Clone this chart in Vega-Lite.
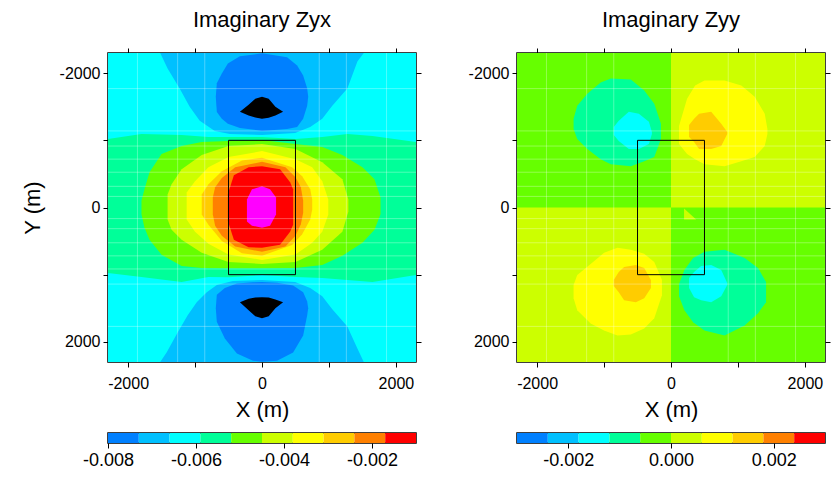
{
  "$schema": "https://vega.github.io/schema/vega-lite/v6.json",
  "background": "white",
  "padding": {"left": 20, "top": 7, "right": 5, "bottom": 5},
  "config": {
    "font": "Liberation Sans",
    "view": {"stroke": "black", "strokeWidth": 1.5},
    "axis": {"grid": false, "domain": false, "labelFlush": false, "tickColor": "black", "tickSize": 5, "tickWidth": 1, "labelFontSize": 16, "labelColor": "black", "labelPadding": 3, "titleFontSize": 22, "titleFontWeight": "normal", "titleColor": "black"},
    "title": {"fontSize": 22, "fontWeight": "normal", "color": "black", "offset": 16}
  },
  "datasets": {
    "zyx": [
      {"c":"a01","z":-0.00625,"x":-2300,"t":-2300,"b":2300},
      {"c":"a01","z":-0.00625,"x":2300,"t":-2300,"b":2300},
      {"c":"a02","z":-0.00695,"x":-1520,"t":-2300,"b":-2300},
      {"c":"a02","z":-0.00695,"x":-1410,"t":-2300,"b":-2070},
      {"c":"a02","z":-0.00695,"x":-1230,"t":-2300,"b":-1770},
      {"c":"a02","z":-0.00695,"x":-1080,"t":-2300,"b":-1500},
      {"c":"a02","z":-0.00695,"x":-930,"t":-2300,"b":-1290},
      {"c":"a02","z":-0.00695,"x":-705,"t":-2300,"b":-1140},
      {"c":"a02","z":-0.00695,"x":-480,"t":-2300,"b":-1095},
      {"c":"a02","z":-0.00695,"x":0,"t":-2300,"b":-1080},
      {"c":"a02","z":-0.00695,"x":495,"t":-2300,"b":-1110},
      {"c":"a02","z":-0.00695,"x":720,"t":-2300,"b":-1200},
      {"c":"a02","z":-0.00695,"x":900,"t":-2300,"b":-1320},
      {"c":"a02","z":-0.00695,"x":1050,"t":-2300,"b":-1515},
      {"c":"a02","z":-0.00695,"x":1275,"t":-2300,"b":-1770},
      {"c":"a02","z":-0.00695,"x":1425,"t":-2300,"b":-2175},
      {"c":"a02","z":-0.00695,"x":1520,"t":-2300,"b":-2300},
      {"c":"a03","z":-0.00695,"x":-1520,"t":2300,"b":2300},
      {"c":"a03","z":-0.00695,"x":-1425,"t":2160,"b":2300},
      {"c":"a03","z":-0.00695,"x":-1260,"t":1860,"b":2300},
      {"c":"a03","z":-0.00695,"x":-1110,"t":1605,"b":2300},
      {"c":"a03","z":-0.00695,"x":-975,"t":1410,"b":2300},
      {"c":"a03","z":-0.00695,"x":-825,"t":1260,"b":2300},
      {"c":"a03","z":-0.00695,"x":-675,"t":1155,"b":2300},
      {"c":"a03","z":-0.00695,"x":-435,"t":1095,"b":2300},
      {"c":"a03","z":-0.00695,"x":0,"t":1080,"b":2300},
      {"c":"a03","z":-0.00695,"x":495,"t":1110,"b":2300},
      {"c":"a03","z":-0.00695,"x":720,"t":1200,"b":2300},
      {"c":"a03","z":-0.00695,"x":900,"t":1320,"b":2300},
      {"c":"a03","z":-0.00695,"x":1050,"t":1515,"b":2300},
      {"c":"a03","z":-0.00695,"x":1275,"t":1770,"b":2300},
      {"c":"a03","z":-0.00695,"x":1425,"t":2100,"b":2300},
      {"c":"a03","z":-0.00695,"x":1520,"t":2300,"b":2300},
      {"c":"a04","z":-0.00765,"x":-690,"t":-1650,"b":-1650},
      {"c":"a04","z":-0.00765,"x":-675,"t":-1850,"b":-1420},
      {"c":"a04","z":-0.00765,"x":-600,"t":-1995,"b":-1320},
      {"c":"a04","z":-0.00765,"x":-510,"t":-2145,"b":-1245},
      {"c":"a04","z":-0.00765,"x":-330,"t":-2250,"b":-1185},
      {"c":"a04","z":-0.00765,"x":0,"t":-2295,"b":-1140},
      {"c":"a04","z":-0.00765,"x":375,"t":-2235,"b":-1170},
      {"c":"a04","z":-0.00765,"x":525,"t":-2115,"b":-1200},
      {"c":"a04","z":-0.00765,"x":615,"t":-1965,"b":-1320},
      {"c":"a04","z":-0.00765,"x":675,"t":-1770,"b":-1515},
      {"c":"a04","z":-0.00765,"x":690,"t":-1650,"b":-1650},
      {"c":"a05","z":-0.00765,"x":-690,"t":1500,"b":1500},
      {"c":"a05","z":-0.00765,"x":-675,"t":1300,"b":1700},
      {"c":"a05","z":-0.00765,"x":-555,"t":1200,"b":1950},
      {"c":"a05","z":-0.00765,"x":-375,"t":1130,"b":2175},
      {"c":"a05","z":-0.00765,"x":-135,"t":1112,"b":2280},
      {"c":"a05","z":-0.00765,"x":0,"t":1110,"b":2295},
      {"c":"a05","z":-0.00765,"x":225,"t":1120,"b":2280},
      {"c":"a05","z":-0.00765,"x":465,"t":1160,"b":2160},
      {"c":"a05","z":-0.00765,"x":615,"t":1260,"b":1905},
      {"c":"a05","z":-0.00765,"x":675,"t":1400,"b":1605},
      {"c":"a05","z":-0.00765,"x":690,"t":1500,"b":1500},
      {"c":"a06","z":-0.0084,"x":-330,"t":-1425,"b":-1425},
      {"c":"a06","z":-0.0084,"x":-200,"t":-1530,"b":-1370},
      {"c":"a06","z":-0.0084,"x":-100,"t":-1620,"b":-1340},
      {"c":"a06","z":-0.0084,"x":0,"t":-1650,"b":-1320},
      {"c":"a06","z":-0.0084,"x":100,"t":-1620,"b":-1335},
      {"c":"a06","z":-0.0084,"x":200,"t":-1500,"b":-1370},
      {"c":"a06","z":-0.0084,"x":315,"t":-1425,"b":-1425},
      {"c":"a07","z":-0.0084,"x":-330,"t":1410,"b":1410},
      {"c":"a07","z":-0.0084,"x":-200,"t":1360,"b":1530},
      {"c":"a07","z":-0.0084,"x":-100,"t":1340,"b":1620},
      {"c":"a07","z":-0.0084,"x":0,"t":1335,"b":1650},
      {"c":"a07","z":-0.0084,"x":100,"t":1340,"b":1620},
      {"c":"a07","z":-0.0084,"x":200,"t":1370,"b":1500},
      {"c":"a07","z":-0.0084,"x":315,"t":1410,"b":1410},
      {"c":"a08","z":-0.00555,"x":-2300,"t":-1020,"b":975},
      {"c":"a08","z":-0.00555,"x":-1800,"t":-1095,"b":1035},
      {"c":"a08","z":-0.00555,"x":-1200,"t":-1080,"b":1110},
      {"c":"a08","z":-0.00555,"x":-800,"t":-1050,"b":1035},
      {"c":"a08","z":-0.00555,"x":-500,"t":-1050,"b":1040},
      {"c":"a08","z":-0.00555,"x":0,"t":-1050,"b":1005},
      {"c":"a08","z":-0.00555,"x":500,"t":-1020,"b":1035},
      {"c":"a08","z":-0.00555,"x":900,"t":-1050,"b":1050},
      {"c":"a08","z":-0.00555,"x":1275,"t":-1095,"b":1080},
      {"c":"a08","z":-0.00555,"x":1650,"t":-1065,"b":1110},
      {"c":"a08","z":-0.00555,"x":2300,"t":-975,"b":1005},
      {"c":"a09","z":-0.00485,"x":-1800,"t":-100,"b":100},
      {"c":"a09","z":-0.00485,"x":-1755,"t":-270,"b":300},
      {"c":"a09","z":-0.00485,"x":-1680,"t":-525,"b":480},
      {"c":"a09","z":-0.00485,"x":-1500,"t":-795,"b":705},
      {"c":"a09","z":-0.00485,"x":-1200,"t":-915,"b":870},
      {"c":"a09","z":-0.00485,"x":-900,"t":-975,"b":900},
      {"c":"a09","z":-0.00485,"x":-500,"t":-990,"b":905},
      {"c":"a09","z":-0.00485,"x":0,"t":-1005,"b":905},
      {"c":"a09","z":-0.00485,"x":500,"t":-945,"b":900},
      {"c":"a09","z":-0.00485,"x":900,"t":-900,"b":855},
      {"c":"a09","z":-0.00485,"x":1200,"t":-780,"b":720},
      {"c":"a09","z":-0.00485,"x":1500,"t":-600,"b":525},
      {"c":"a09","z":-0.00485,"x":1680,"t":-420,"b":330},
      {"c":"a09","z":-0.00485,"x":1770,"t":-150,"b":100},
      {"c":"a10","z":-0.00415,"x":-1410,"t":-195,"b":180},
      {"c":"a10","z":-0.00415,"x":-1350,"t":-345,"b":330},
      {"c":"a10","z":-0.00415,"x":-1200,"t":-570,"b":480},
      {"c":"a10","z":-0.00415,"x":-900,"t":-780,"b":675},
      {"c":"a10","z":-0.00415,"x":-500,"t":-915,"b":810},
      {"c":"a10","z":-0.00415,"x":0,"t":-945,"b":840},
      {"c":"a10","z":-0.00415,"x":500,"t":-870,"b":810},
      {"c":"a10","z":-0.00415,"x":900,"t":-675,"b":630},
      {"c":"a10","z":-0.00415,"x":1200,"t":-420,"b":360},
      {"c":"a10","z":-0.00415,"x":1290,"t":-120,"b":60},
      {"c":"a11","z":-0.00345,"x":-1125,"t":-225,"b":180},
      {"c":"a11","z":-0.00345,"x":-1000,"t":-390,"b":360},
      {"c":"a11","z":-0.00345,"x":-800,"t":-600,"b":540},
      {"c":"a11","z":-0.00345,"x":-500,"t":-750,"b":700},
      {"c":"a11","z":-0.00345,"x":0,"t":-840,"b":780},
      {"c":"a11","z":-0.00345,"x":500,"t":-720,"b":700},
      {"c":"a11","z":-0.00345,"x":750,"t":-600,"b":525},
      {"c":"a11","z":-0.00345,"x":900,"t":-390,"b":360},
      {"c":"a11","z":-0.00345,"x":990,"t":-120,"b":105},
      {"c":"a12","z":-0.00275,"x":-900,"t":-195,"b":105},
      {"c":"a12","z":-0.00275,"x":-800,"t":-345,"b":255},
      {"c":"a12","z":-0.00275,"x":-600,"t":-540,"b":500},
      {"c":"a12","z":-0.00275,"x":-300,"t":-700,"b":680},
      {"c":"a12","z":-0.00275,"x":0,"t":-740,"b":720},
      {"c":"a12","z":-0.00275,"x":450,"t":-600,"b":560},
      {"c":"a12","z":-0.00275,"x":600,"t":-465,"b":400},
      {"c":"a12","z":-0.00275,"x":720,"t":-270,"b":180},
      {"c":"a12","z":-0.00275,"x":750,"t":-120,"b":30},
      {"c":"a13","z":-0.00205,"x":-735,"t":-150,"b":100},
      {"c":"a13","z":-0.00205,"x":-700,"t":-300,"b":270},
      {"c":"a13","z":-0.00205,"x":-600,"t":-440,"b":420},
      {"c":"a13","z":-0.00205,"x":-400,"t":-600,"b":580},
      {"c":"a13","z":-0.00205,"x":0,"t":-680,"b":660},
      {"c":"a13","z":-0.00205,"x":350,"t":-600,"b":580},
      {"c":"a13","z":-0.00205,"x":500,"t":-450,"b":420},
      {"c":"a13","z":-0.00205,"x":580,"t":-300,"b":250},
      {"c":"a13","z":-0.00205,"x":615,"t":-100,"b":80},
      {"c":"a14","z":-0.00135,"x":-510,"t":-200,"b":200},
      {"c":"a14","z":-0.00135,"x":-420,"t":-480,"b":480},
      {"c":"a14","z":-0.00135,"x":-200,"t":-600,"b":590},
      {"c":"a14","z":-0.00135,"x":0,"t":-615,"b":600},
      {"c":"a14","z":-0.00135,"x":270,"t":-570,"b":555},
      {"c":"a14","z":-0.00135,"x":420,"t":-375,"b":360},
      {"c":"a14","z":-0.00135,"x":465,"t":-270,"b":255},
      {"c":"a15","z":-0.0008,"x":-225,"t":-120,"b":210},
      {"c":"a15","z":-0.0008,"x":-150,"t":-270,"b":270},
      {"c":"a15","z":-0.0008,"x":0,"t":-315,"b":300},
      {"c":"a15","z":-0.0008,"x":120,"t":-270,"b":270},
      {"c":"a15","z":-0.0008,"x":210,"t":-150,"b":105}
    ],
    "zyy": [
      {"c":"a01","z":-0.0003,"x":-2300,"t":-2300,"b":2300},
      {"c":"a01","z":-0.0003,"x":2300,"t":-2300,"b":2300},
      {"c":"a02","z":0.0003,"x":0,"t":-2300,"b":0},
      {"c":"a02","z":0.0003,"x":2300,"t":-2300,"b":0},
      {"c":"a03","z":0.0003,"x":-2300,"t":0,"b":2300},
      {"c":"a03","z":0.0003,"x":0,"t":0,"b":2300},
      {"c":"a04","z":-0.0009,"x":-1455,"t":-1320,"b":-1170},
      {"c":"a04","z":-0.0009,"x":-1400,"t":-1515,"b":-1020},
      {"c":"a04","z":-0.0009,"x":-1250,"t":-1695,"b":-870},
      {"c":"a04","z":-0.0009,"x":-1050,"t":-1860,"b":-720},
      {"c":"a04","z":-0.0009,"x":-900,"t":-1920,"b":-645},
      {"c":"a04","z":-0.0009,"x":-600,"t":-1905,"b":-615},
      {"c":"a04","z":-0.0009,"x":-400,"t":-1740,"b":-690},
      {"c":"a04","z":-0.0009,"x":-250,"t":-1545,"b":-750},
      {"c":"a04","z":-0.0009,"x":-150,"t":-1245,"b":-1020},
      {"c":"a05","z":-0.0015,"x":-855,"t":-1200,"b":-1080},
      {"c":"a05","z":-0.0015,"x":-780,"t":-1290,"b":-990},
      {"c":"a05","z":-0.0015,"x":-630,"t":-1425,"b":-870},
      {"c":"a05","z":-0.0015,"x":-480,"t":-1395,"b":-870},
      {"c":"a05","z":-0.0015,"x":-330,"t":-1275,"b":-945},
      {"c":"a05","z":-0.0015,"x":-285,"t":-1125,"b":-1095},
      {"c":"a06","z":0.0009,"x":120,"t":-1215,"b":-945},
      {"c":"a06","z":0.0009,"x":240,"t":-1620,"b":-795},
      {"c":"a06","z":0.0009,"x":360,"t":-1815,"b":-720},
      {"c":"a06","z":0.0009,"x":500,"t":-1890,"b":-645},
      {"c":"a06","z":0.0009,"x":800,"t":-1890,"b":-615},
      {"c":"a06","z":0.0009,"x":1050,"t":-1815,"b":-690},
      {"c":"a06","z":0.0009,"x":1250,"t":-1650,"b":-750},
      {"c":"a06","z":0.0009,"x":1400,"t":-1395,"b":-915},
      {"c":"a06","z":0.0009,"x":1440,"t":-1170,"b":-1095},
      {"c":"a07","z":0.0015,"x":270,"t":-1230,"b":-1050},
      {"c":"a07","z":0.0015,"x":345,"t":-1320,"b":-975},
      {"c":"a07","z":0.0015,"x":420,"t":-1395,"b":-870},
      {"c":"a07","z":0.0015,"x":600,"t":-1425,"b":-870},
      {"c":"a07","z":0.0015,"x":750,"t":-1245,"b":-915},
      {"c":"a07","z":0.0015,"x":840,"t":-1125,"b":-1095},
      {"c":"a08","z":0.0009,"x":-1455,"t":1155,"b":1350},
      {"c":"a08","z":0.0009,"x":-1400,"t":1005,"b":1530},
      {"c":"a08","z":0.0009,"x":-1200,"t":840,"b":1725},
      {"c":"a08","z":0.0009,"x":-1000,"t":675,"b":1830},
      {"c":"a08","z":0.0009,"x":-800,"t":600,"b":1905},
      {"c":"a08","z":0.0009,"x":-600,"t":630,"b":1890},
      {"c":"a08","z":0.0009,"x":-400,"t":690,"b":1800},
      {"c":"a08","z":0.0009,"x":-250,"t":810,"b":1650},
      {"c":"a08","z":0.0009,"x":-135,"t":1080,"b":1305},
      {"c":"a09","z":0.0015,"x":-855,"t":1080,"b":1170},
      {"c":"a09","z":0.0015,"x":-780,"t":960,"b":1260},
      {"c":"a09","z":0.0015,"x":-700,"t":885,"b":1380},
      {"c":"a09","z":0.0015,"x":-525,"t":855,"b":1410},
      {"c":"a09","z":0.0015,"x":-400,"t":900,"b":1350},
      {"c":"a09","z":0.0015,"x":-300,"t":1080,"b":1200},
      {"c":"a10","z":-0.0009,"x":120,"t":1140,"b":1320},
      {"c":"a10","z":-0.0009,"x":200,"t":930,"b":1530},
      {"c":"a10","z":-0.0009,"x":330,"t":750,"b":1710},
      {"c":"a10","z":-0.0009,"x":500,"t":660,"b":1830},
      {"c":"a10","z":-0.0009,"x":800,"t":630,"b":1905},
      {"c":"a10","z":-0.0009,"x":1100,"t":750,"b":1755},
      {"c":"a10","z":-0.0009,"x":1300,"t":900,"b":1575},
      {"c":"a10","z":-0.0009,"x":1420,"t":1110,"b":1410},
      {"c":"a11","z":-0.0015,"x":270,"t":1050,"b":1200},
      {"c":"a11","z":-0.0015,"x":345,"t":960,"b":1335},
      {"c":"a11","z":-0.0015,"x":450,"t":870,"b":1380},
      {"c":"a11","z":-0.0015,"x":600,"t":855,"b":1410},
      {"c":"a11","z":-0.0015,"x":750,"t":930,"b":1320},
      {"c":"a11","z":-0.0015,"x":840,"t":1125,"b":1155},
      {"c":"a12","z":0.0003,"x":195,"t":15,"b":180},
      {"c":"a12","z":0.0003,"x":375,"t":180,"b":180}
    ],
    "mx": [{"x":-1860},{"x":-1260},{"x":-855},{"x":855},{"x":1260},{"x":1860}],
    "my": [{"t":-1770},{"t":-1140},{"t":-915},{"t":-720},{"t":-525},{"t":-315},{"t":-165},{"t":165},{"t":315},{"t":525},{"t":720},{"t":915},{"t":1140},{"t":1770}],
    "box": [{"x": -500, "x2": 500, "t": -1000, "b": 1000}],
    "cb1": [
      {"lo":-0.008,"hi":-0.0073,"z":-0.00765},
      {"lo":-0.0073,"hi":-0.0066,"z":-0.00695},
      {"lo":-0.0066,"hi":-0.0059,"z":-0.00625},
      {"lo":-0.0059,"hi":-0.0052,"z":-0.00555},
      {"lo":-0.0052,"hi":-0.0045,"z":-0.00485},
      {"lo":-0.0045,"hi":-0.0038,"z":-0.00415},
      {"lo":-0.0038,"hi":-0.0031,"z":-0.00345},
      {"lo":-0.0031,"hi":-0.0024,"z":-0.00275},
      {"lo":-0.0024,"hi":-0.0017,"z":-0.00205},
      {"lo":-0.0017,"hi":-0.001,"z":-0.00135}
    ],
    "cb2": [
      {"lo":-0.003,"hi":-0.0024,"z":-0.0027},
      {"lo":-0.0024,"hi":-0.0018,"z":-0.0021},
      {"lo":-0.0018,"hi":-0.0012,"z":-0.0015},
      {"lo":-0.0012,"hi":-0.0006,"z":-0.0009},
      {"lo":-0.0006,"hi":0,"z":-0.0003},
      {"lo":0,"hi":0.0006,"z":0.0003},
      {"lo":0.0006,"hi":0.0012,"z":0.0009},
      {"lo":0.0012,"hi":0.0018,"z":0.0015},
      {"lo":0.0018,"hi":0.0024,"z":0.0021},
      {"lo":0.0024,"hi":0.003,"z":0.0027}
    ]
  },
  "columns": 2,
  "spacing": {"row": 71, "column": 101},
  "bounds": "flush",
  "resolve": {"scale": {"color": "independent"}},
  "concat": [
    {
      "width": 308, "height": 309,
      "title": {"text": "Imaginary Zyx"},
      "layer": [
        {
          "data": {"name": "zyx"},
          "mark": {"type": "area", "clip": true, "interpolate": "linear", "opacity": 1},
          "encoding": {
            "x": {"field": "x", "type": "quantitative", "scale": {"domain": [-2300, 2300], "nice": false, "zero": false}, "axis": {"orient": "bottom", "title": "X (m)", "values": [-2000, -1000, 0, 1000, 2000], "labelExpr": "abs(datum.value) == 1000 ? '' : (datum.value < 0 ? '-' : '') + abs(datum.value)", "labelPadding": 8, "titlePadding": 8}},
            "y": {"field": "t", "type": "quantitative", "stack": null, "scale": {"domain": [-2300, 2300], "nice": false, "zero": false, "reverse": true}, "axis": {"orient": "left", "title": "Y (m)", "values": [-2000, -1000, 0, 1000, 2000], "labelExpr": "abs(datum.value) == 1000 ? '' : (datum.value < 0 ? '-' : '') + abs(datum.value)", "titlePadding": 15}},
            "y2": {"field": "b"},
            "color": {"field": "z", "type": "quantitative", "scale": {"type": "threshold", "domain": [-0.008, -0.0073, -0.0066, -0.0059, -0.0052, -0.0045, -0.0038, -0.0031, -0.0024, -0.0017, -0.001], "range": ["#000000", "#0080ff", "#00c0ff", "#00ffff", "#00ff99", "#66ff00", "#ccff00", "#ffff00", "#ffcc00", "#ff8000", "#ff0000", "#ff00ff"]}, "legend": null},
            "detail": {"field": "c", "type": "nominal"}
          }
        },
        {
          "data": {"name": "mx"},
          "mark": {"type": "rule", "color": "white", "opacity": 0.3, "strokeWidth": 1, "clip": true},
          "encoding": {"x": {"field": "x", "type": "quantitative", "axis": null}}
        },
        {
          "data": {"name": "my"},
          "mark": {"type": "rule", "color": "white", "opacity": 0.3, "strokeWidth": 1, "clip": true},
          "encoding": {"y": {"field": "t", "type": "quantitative", "axis": null}}
        },
        {
          "data": {"name": "box"},
          "mark": {"type": "rect", "filled": false, "stroke": "black", "strokeWidth": 1, "clip": true},
          "encoding": {
            "x": {"field": "x", "type": "quantitative", "axis": {"orient": "top", "labels": false, "title": null, "values": [-2000, -1000, 0, 1000, 2000]}},
            "x2": {"field": "x2"},
            "y": {"field": "t", "type": "quantitative", "axis": {"orient": "right", "labels": false, "title": null, "values": [-2000, -1000, 0, 1000, 2000]}},
            "y2": {"field": "b"}
          }
        }
      ],
      "resolve": {"axis": {"x": "independent", "y": "independent"}}
    },
    {
      "width": 308, "height": 309,
      "title": {"text": "Imaginary Zyy"},
      "layer": [
        {
          "data": {"name": "zyy"},
          "mark": {"type": "area", "clip": true, "interpolate": "linear", "opacity": 1},
          "encoding": {
            "x": {"field": "x", "type": "quantitative", "scale": {"domain": [-2300, 2300], "nice": false, "zero": false}, "axis": {"orient": "bottom", "title": "X (m)", "values": [-2000, -1000, 0, 1000, 2000], "labelExpr": "abs(datum.value) == 1000 ? '' : (datum.value < 0 ? '-' : '') + abs(datum.value)", "labelPadding": 8, "titlePadding": 8}},
            "y": {"field": "t", "type": "quantitative", "stack": null, "scale": {"domain": [-2300, 2300], "nice": false, "zero": false, "reverse": true}, "axis": {"orient": "left", "title": null, "values": [-2000, -1000, 0, 1000, 2000], "labelExpr": "abs(datum.value) == 1000 ? '' : (datum.value < 0 ? '-' : '') + abs(datum.value)"}},
            "y2": {"field": "b"},
            "color": {"field": "z", "type": "quantitative", "scale": {"type": "threshold", "domain": [-0.003, -0.0024, -0.0018, -0.0012, -0.0006, 0, 0.0006, 0.0012, 0.0018, 0.0024, 0.003], "range": ["#000000", "#0080ff", "#00c0ff", "#00ffff", "#00ff99", "#66ff00", "#ccff00", "#ffff00", "#ffcc00", "#ff8000", "#ff0000", "#ff00ff"]}, "legend": null},
            "detail": {"field": "c", "type": "nominal"}
          }
        },
        {
          "data": {"name": "mx"},
          "mark": {"type": "rule", "color": "white", "opacity": 0.3, "strokeWidth": 1, "clip": true},
          "encoding": {"x": {"field": "x", "type": "quantitative", "axis": null}}
        },
        {
          "data": {"name": "my"},
          "mark": {"type": "rule", "color": "white", "opacity": 0.3, "strokeWidth": 1, "clip": true},
          "encoding": {"y": {"field": "t", "type": "quantitative", "axis": null}}
        },
        {
          "data": {"name": "box"},
          "mark": {"type": "rect", "filled": false, "stroke": "black", "strokeWidth": 1, "clip": true},
          "encoding": {
            "x": {"field": "x", "type": "quantitative", "axis": {"orient": "top", "labels": false, "title": null, "values": [-2000, -1000, 0, 1000, 2000]}},
            "x2": {"field": "x2"},
            "y": {"field": "t", "type": "quantitative", "axis": {"orient": "right", "labels": false, "title": null, "values": [-2000, -1000, 0, 1000, 2000]}},
            "y2": {"field": "b"}
          }
        }
      ],
      "resolve": {"axis": {"x": "independent", "y": "independent"}}
    },
    {
      "width": 308, "height": 10,
      "data": {"name": "cb1"},
      "mark": {"type": "rect"},
      "encoding": {
        "x": {"field": "lo", "type": "quantitative", "scale": {"domain": [-0.008, -0.001], "nice": false, "zero": false}, "axis": {"title": null, "labelFontSize": 18, "values": [-0.008, -0.006, -0.004, -0.002], "labelExpr": "(datum.value < 0 ? '-' : '') + format(abs(datum.value), '.3f')"}},
        "x2": {"field": "hi"},
        "color": {"field": "z", "type": "quantitative", "scale": {"type": "threshold", "domain": [-0.008, -0.0073, -0.0066, -0.0059, -0.0052, -0.0045, -0.0038, -0.0031, -0.0024, -0.0017, -0.001], "range": ["#000000", "#0080ff", "#00c0ff", "#00ffff", "#00ff99", "#66ff00", "#ccff00", "#ffff00", "#ffcc00", "#ff8000", "#ff0000", "#ff00ff"]}, "legend": null}
      }
    },
    {
      "width": 308, "height": 10,
      "data": {"name": "cb2"},
      "mark": {"type": "rect"},
      "encoding": {
        "x": {"field": "lo", "type": "quantitative", "scale": {"domain": [-0.003, 0.003], "nice": false, "zero": false}, "axis": {"title": null, "labelFontSize": 18, "values": [-0.002, 0, 0.002], "labelExpr": "(datum.value < 0 ? '-' : '') + format(abs(datum.value), '.3f')"}},
        "x2": {"field": "hi"},
        "color": {"field": "z", "type": "quantitative", "scale": {"type": "threshold", "domain": [-0.003, -0.0024, -0.0018, -0.0012, -0.0006, 0, 0.0006, 0.0012, 0.0018, 0.0024, 0.003], "range": ["#000000", "#0080ff", "#00c0ff", "#00ffff", "#00ff99", "#66ff00", "#ccff00", "#ffff00", "#ffcc00", "#ff8000", "#ff0000", "#ff00ff"]}, "legend": null}
      }
    }
  ]
}
